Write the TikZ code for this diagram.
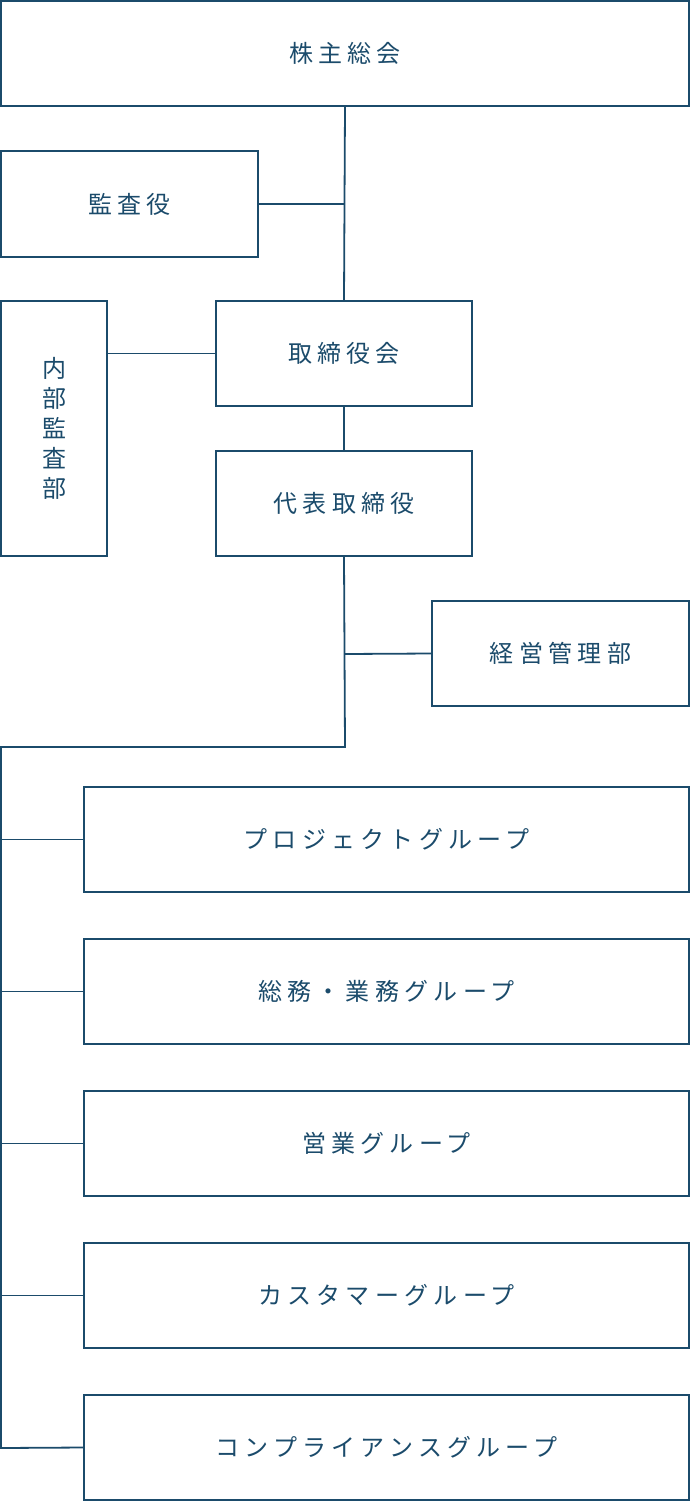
\documentclass[tikz,border=0pt]{standalone}
\usepackage{fontspec}
\newfontfamily\jp[LetterSpace=22]{Noto Sans CJK JP}
\definecolor{ink}{HTML}{1B4B6B}
\begin{document}
\begin{tikzpicture}[x=1pt,y=-1pt,line width=1.8pt,
  bx/.style={draw=ink,text=ink,font=\jp\fontsize{24}{30}\selectfont,inner sep=0pt},
  ln/.style={draw=ink}]
\useasboundingbox (0,0) rectangle (690,1502);
\newcommand\bx[6]{\node[bx,minimum width=#4-#2,minimum height=#5-#3] (#1) at ({(#2+#4)/2},{(#3+#5)/2}) {#6};}
\bx{a}{1}{1}{689}{106}{株主総会}
\bx{b}{1}{151}{258}{257}{監査役}
\node[bx,minimum width=106,minimum height=255,align=center] (c) at (54,428.5) {\fontsize{24}{31}\selectfont 内\\部\\監\\査\\部};
\bx{d}{216}{301}{472}{406}{取締役会}
\bx{e}{216}{451}{472}{556}{代表取締役}
\bx{f}{432}{601}{689}{706}{経営管理部}
\bx{g1}{84}{787}{689}{892}{プロジェクトグループ}
\bx{g2}{84}{939}{689}{1044}{総務・業務グループ}
\bx{g3}{84}{1091}{689}{1196}{営業グループ}
\bx{g4}{84}{1243}{689}{1348}{カスタマーグループ}
\bx{g5}{84}{1395}{689}{1500}{コンプライアンスグループ}
\coordinate (j1) at (345,204);
\coordinate (j2) at (345,654);
\coordinate (j3) at (345,747);
\coordinate (j4) at (1,747);
\draw[ln] (a.south) -- (d.north);
\draw[ln] (b.east) -- (j1);
\draw[ln] (c.east |- d.west) -- (d.west);
\draw[ln] (d.south) -- (e.north);
\draw[ln] (e.south) -- (j3) -- (j4) -- (1,1448) -- (g5.west);
\draw[ln] (j2) -- (f.west);
\foreach \g in {g1,g2,g3,g4} \draw[ln] (1,0 |- \g.west) -- (\g.west);
\end{tikzpicture}
\end{document}
